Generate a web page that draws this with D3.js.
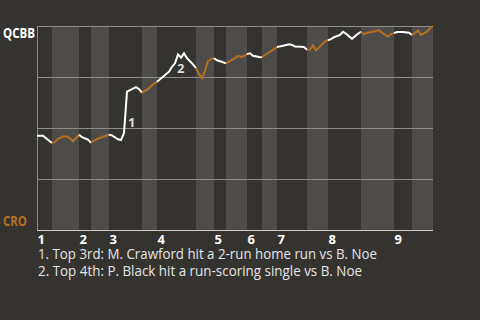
<!DOCTYPE html>
<html>
<head>
<meta charset="utf-8">
<script src="https://cdn.jsdelivr.net/npm/d3@7"></script>
<style>
  html, body { margin: 0; padding: 0; background: #353330; }
  svg { display: block; font-family: "Open Sans", "Noto Sans", sans-serif; }
</style>
</head>
<body>
<script>
"use strict";

// win probability for QCBB after each play (play number, probability)
const plays = [
  [0, .462], [2, .462], [4, .438], [5, .426],
  [6, .432], [7, .447], [9, .459], [10, .457], [11, .45], [12, .435], [14, .467],
  [15, .455], [17, .443], [18, .428],
  [20, .446], [22, .457], [24, .467],
  [25, .464], [27, .445], [28, .441], [29, .475], [30, .678], [31, .686], [32, .693], [33, .70], [34, .691], [35, .673],
  [37, .69], [38, .705], [39, .718], [40, .727],
  [42, .751], [44, .776], [45, .80], [46, .817], [47, .861], [48, .845], [49, .866], [50, .842], [52, .812], [53, .794],
  [54, .765], [55, .745], [56, .78], [57, .828], [58, .838], [59, .842],
  [60, .832], [62, .822], [63, .817],
  [64, .825], [66, .842], [67, .854], [68, .848], [69, .853], [70, .862],
  [71, .866], [72, .854], [74, .848], [75, .847],
  [76, .858], [78, .877], [79, .887], [80, .897],
  [82, .903], [84, .91], [85, .907], [86, .90], [88, .898], [89, .897], [90, .884],
  [91, .885], [92, .905], [93, .88], [94, .895], [95, .91], [96, .925], [97, .93],
  [98, .936], [99, .945], [101, .956], [102, .972], [103, .962], [104, .95], [105, .937], [106, .95], [107, .962], [108, .972],
  [109, .96], [110, .967], [112, .972], [114, .98], [115, .967], [117, .948], [118, .96], [119, .965],
  [120, .97], [122, .97], [124, .967], [125, .956],
  [126, .967], [127, .977], [128, .956], [130, .972], [131, .989], [132, 1.0]
];

// play number where each half inning starts (top 1st, bottom 1st, ...), plus the end
const halfStarts = [0, 5, 14, 18, 24, 35, 40, 53, 59, 63, 70, 75, 80, 90, 97, 108, 119, 125, 132];
const innings = ["1", "2", "3", "4", "5", "6", "7", "8", "9"];
const teams = ["CRO", "QCBB"];
const yTicks = [0, .25, .5, .75, 1];

// key plays: marker, play number
const keyPlays = [["1", 30], ["2", 47]];
const notes = [
  "1. Top 3rd: M. Crawford hit a 2-run home run vs B. Noe",
  "2. Top 4th: P. Black hit a run-scoring single vs B. Noe"
];

const width = 480, height = 320;
const margin = {top: 26, right: 47, bottom: 90, left: 37};
const orange = "#b4701e";

const svg = d3.select("body").append("svg")
    .attr("width", width)
    .attr("height", height);

const x = d3.scaleLinear()
    .domain([0, d3.max(halfStarts)])
    .range([margin.left, width - margin.right]);

const y = d3.scaleLinear()
    .domain([0, 1])
    .range([height - margin.bottom, margin.top]);

// bottom-half stripes
const halves = d3.pairs(halfStarts).map((p, i) => ({s: p[0], e: p[1], bottom: i % 2 === 1}));

svg.append("g")
  .selectAll("rect")
  .data(halves.filter(d => d.bottom))
  .enter().append("rect")
    .attr("x", d => x(d.s))
    .attr("width", d => x(d.e) - x(d.s))
    .attr("y", y(1))
    .attr("height", y(0) - y(1))
    .attr("fill", "#4e4c4a");

// grid
svg.append("g")
  .selectAll("line")
  .data(yTicks.filter(t => t > 0))
  .enter().append("line")
    .attr("x1", x.range()[0])
    .attr("x2", x.range()[1])
    .attr("y1", d => Math.round(y(d)) + 0.5)
    .attr("y2", d => Math.round(y(d)) + 0.5)
    .attr("stroke", "#8f8d8a")
    .attr("stroke-width", 1);

svg.append("line")
    .attr("x1", x.range()[0] + 0.5).attr("x2", x.range()[0] + 0.5)
    .attr("y1", y(1)).attr("y2", y(0))
    .attr("stroke", "#8f8d8a");

svg.append("line")
    .attr("x1", x.range()[0]).attr("x2", x.range()[1])
    .attr("y1", y(0) + 0.5).attr("y2", y(0) + 0.5)
    .attr("stroke", "#cfcdca");

// team labels
svg.append("text")
    .attr("x", 3).attr("y", y(1) + 12)
    .attr("fill", "#ffffff")
    .attr("font-size", 14).attr("font-weight", "bold")
    .attr("textLength", 32).attr("lengthAdjust", "spacingAndGlyphs")
    .text(teams[1]);

svg.append("text")
    .attr("x", 3).attr("y", y(0) - 4)
    .attr("fill", orange)
    .attr("font-size", 14).attr("font-weight", "bold")
    .attr("textLength", 24).attr("lengthAdjust", "spacingAndGlyphs")
    .text(teams[0]);

// inning labels
svg.append("g")
  .selectAll("text")
  .data(innings)
  .enter().append("text")
    .attr("x", (d, i) => x(halfStarts[i * 2]) + 0.5)
    .attr("y", y(0) + 13.5)
    .attr("fill", "#ffffff")
    .attr("font-size", 13).attr("font-weight", "bold")
    .text(d => d);

// win prob line, one path per half inning
const line = d3.line()
    .x(d => x(d[0]))
    .y(d => y(d[1]));

svg.append("g")
  .selectAll("path")
  .data(halves)
  .enter().append("path")
    .attr("d", h => line(plays.filter(p => p[0] >= h.s && p[0] <= h.e)))
    .attr("fill", "none")
    .attr("stroke", h => h.bottom ? orange : "#ffffff")
    .attr("stroke-width", 2)
    .attr("stroke-linejoin", "miter");

// markers for key plays
const markOffset = [[1, 35], [-1, 19]];
svg.append("g")
  .selectAll("text")
  .data(keyPlays)
  .enter().append("text")
    .attr("x", (d, i) => x(d[1]) + markOffset[i][0])
    .attr("y", (d, i) => y(plays.find(p => p[0] === d[1])[1]) + markOffset[i][1])
    .attr("fill", "#dddddd")
    .attr("font-size", 13).attr("font-weight", "bold")
    .text(d => d[0]);

// notes
const noteWidths = [339, 324];
svg.append("g")
  .selectAll("text")
  .data(notes)
  .enter().append("text")
    .attr("x", margin.left + 1)
    .attr("y", (d, i) => y(0) + 29 + i * 17)
    .attr("fill", "#e6e6e6")
    .attr("font-size", 14)
    .attr("textLength", (d, i) => noteWidths[i])
    .attr("lengthAdjust", "spacingAndGlyphs")
    .text(d => d);
</script>
</body>
</html>
